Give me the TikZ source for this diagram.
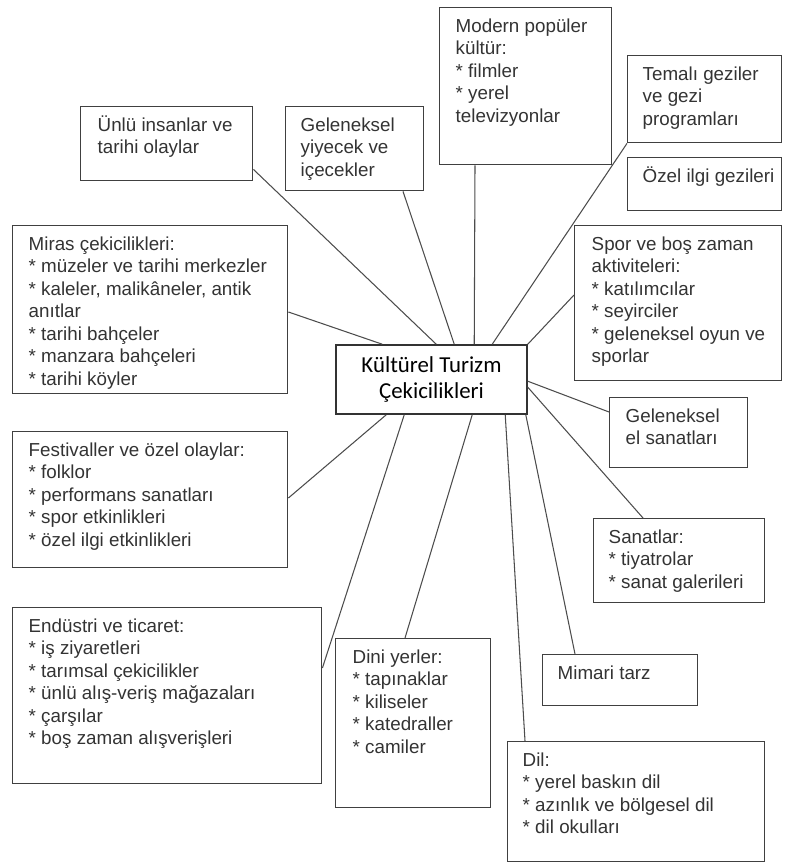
\documentclass[tikz,border=0pt]{standalone}
\usepackage{fontspec}
\setmainfont{Liberation Sans}
\newfontfamily\hubfont{Carlito}
\usetikzlibrary{calc}
\newlength\unitpx
\setlength\unitpx{0.02cm}
\newcommand{\boxtext}[4]{\parbox[c][#2\unitpx][t]{#1\unitpx}{\raggedright\leftskip=#3\unitpx\vspace*{9\unitpx}\strut#4}}

\begin{document}
\begin{tikzpicture}[x=0.02cm, y=-0.02cm]
\tikzstyle{box} = [draw=black!75, line width=0.8pt, rectangle, inner sep=0pt, anchor=north west, text=black!80, font=\fontsize{10.7}{12.8}\selectfont]
\tikzstyle{hub} = [draw=black!80, line width=0.9pt, rectangle, minimum width=3.82cm, minimum height=1.38cm, align=center, font=\hubfont\fontsize{13}{14.4}\selectfont]
\tikzstyle{edge} = [draw=black!70, line width=0.6pt]

\useasboundingbox (0,0) rectangle (792,864);

\node[hub] (hub) at (431.5,379.5) {Kültürel Turizm\\Çekicilikleri};

\node[box] (unlu) at (80,106) {\boxtext{172}{74}{17}{Ünlü insanlar ve\\tarihi olaylar}};
\node[box] (yiyecek) at (285,106) {\boxtext{138}{84}{15}{Geleneksel\\yiyecek ve\\içecekler}};
\node[box] (modern) at (439,7) {\boxtext{172}{157}{16}{Modern popüler\\kültür:\\{}* filmler\\{}* yerel\\televizyonlar}};
\node[box] (temali) at (627,55) {\boxtext{154}{87}{15}{Temalı geziler\\ve gezi\\programları}};
\node[box] (ozel) at (627,157) {\boxtext{154}{53}{15}{Özel ilgi gezileri}};
\node[box] (miras) at (12,225) {\boxtext{275}{168}{16}{Miras çekicilikleri:\\{}* müzeler ve tarihi merkezler\\{}* kaleler, malikâneler, antik\\anıtlar\\{}* tarihi bahçeler\\{}* manzara bahçeleri\\{}* tarihi köyler}};
\node[box] (spor) at (574,225) {\boxtext{207}{155}{17}{Spor ve boş zaman\\aktiviteleri:\\{}* katılımcılar\\{}* seyirciler\\{}* geleneksel oyun ve\\sporlar}};
\node[box] (elsanat) at (609,397) {\boxtext{138}{70}{16}{Geleneksel\\el sanatları}};
\node[box] (festival) at (12,431) {\boxtext{275}{136}{16}{Festivaller ve özel olaylar:\\{}* folklor\\{}* performans sanatları\\{}* spor etkinlikleri\\{}* özel ilgi etkinlikleri}};
\node[box] (sanatlar) at (593,518) {\boxtext{171}{84}{15}{Sanatlar:\\{}* tiyatrolar\\{}* sanat galerileri}};
\node[box] (endustri) at (12,607) {\boxtext{309}{176}{16}{Endüstri ve ticaret:\\{}* iş ziyaretleri\\{}* tarımsal çekicilikler\\{}* ünlü alış-veriş mağazaları\\{}* çarşılar\\{}* boş zaman alışverişleri}};
\node[box] (dini) at (335,638) {\boxtext{155}{169}{17}{Dini yerler:\\{}* tapınaklar\\{}* kiliseler\\{}* katedraller\\{}* camiler}};
\node[box] (mimari) at (542,654) {\boxtext{155}{51}{15}{Mimari tarz}};
\node[box] (dil) at (507,741) {\boxtext{257}{120}{15}{Dil:\\{}* yerel baskın dil\\{}* azınlık ve bölgesel dil\\{}* dil okulları}};

\draw[edge] ($(unlu.south east)+(0,-12)$) to ($(hub.north west)+(101,0)$);
\draw[edge] ($(yiyecek.south west)+(118,0)$) to ($(hub.north west)+(119,0)$);
\draw[edge] ($(modern.south west)+(36,0)$) to ($(hub.north west)+(139,0)$);
\draw[edge] (temali.south west) to ($(hub.north west)+(157,0)$);
\draw[edge] ($(spor.north west)+(0,70)$) to (hub.north east);
\draw[edge] ($(elsanat.north west)+(0,15)$) to ($(hub.north east)+(0,37)$);
\draw[edge] ($(sanatlar.north west)+(50,0)$) to ($(hub.north east)+(0,43)$);
\draw[edge] ($(mimari.north west)+(33,0)$) to ($(hub.south east)+(-2,0)$);
\draw[edge] ($(dil.north west)+(18,0)$) to ($(hub.south west)+(170,0)$);
\draw[edge] ($(dini.north west)+(70,0)$) to ($(hub.south west)+(137,0)$);
\draw[edge] ($(endustri.north east)+(0,61)$) to ($(hub.south west)+(69,0)$);
\draw[edge] ($(festival.north east)+(0,67)$) to ($(hub.south west)+(51,0)$);
\draw[edge] ($(miras.north east)+(0,87)$) to ($(hub.north west)+(47,0)$);
\end{tikzpicture}
\end{document}
